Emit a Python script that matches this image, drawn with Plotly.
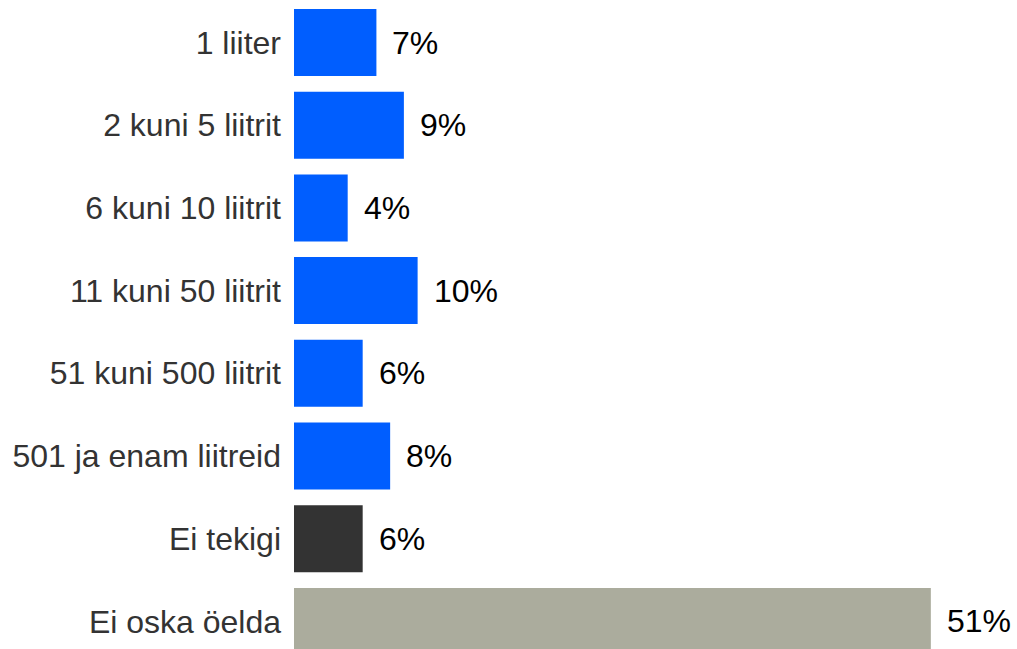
import plotly.graph_objects as go

categories = ["1 liiter", "2 kuni 5 liitrit", "6 kuni 10 liitrit", "11 kuni 50 liitrit",
              "51 kuni 500 liitrit", "501 ja enam liitreid", "Ei tekigi", "Ei oska öelda"]
values = [6.6, 8.8, 4.3, 9.9, 5.5, 7.7, 5.5, 51.0]
labels = ["7%", "9%", "4%", "10%", "6%", "8%", "6%", "51%"]
colors = ["#005EFF"] * 6 + ["#333333", "#ABAC9D"]

FONT = "Liberation Sans, Arial, sans-serif"

fig = go.Figure(go.Bar(
    x=values, y=categories, orientation="h",
    marker=dict(color=colors, line=dict(width=0)),
    width=0.81, hoverinfo="skip",
))

for c, v, t in zip(categories, values, labels):
    fig.add_annotation(x=v, y=c, text=t, showarrow=False, xanchor="left",
                       xshift=14, font=dict(family=FONT, size=32, color="#000000"))

fig.update_layout(
    width=1017, height=649,
    margin=dict(l=294, r=0, t=0, b=0),
    paper_bgcolor="white", plot_bgcolor="white",
    showlegend=False,
    font=dict(family=FONT, size=32, color="#333333"),
    xaxis=dict(range=[0, 57.9], visible=False, showgrid=False, zeroline=False),
    yaxis=dict(range=[7.334, -0.514], showgrid=False, zeroline=False, showline=False,
               ticks="", ticklabelstandoff=12, categoryorder="array", categoryarray=categories,
               tickfont=dict(size=32, color="#333333")),
)
fig.write_html("out.html", config={"displayModeBar": False},
               post_script="document.body.style.margin='0';document.body.style.padding='0';")
